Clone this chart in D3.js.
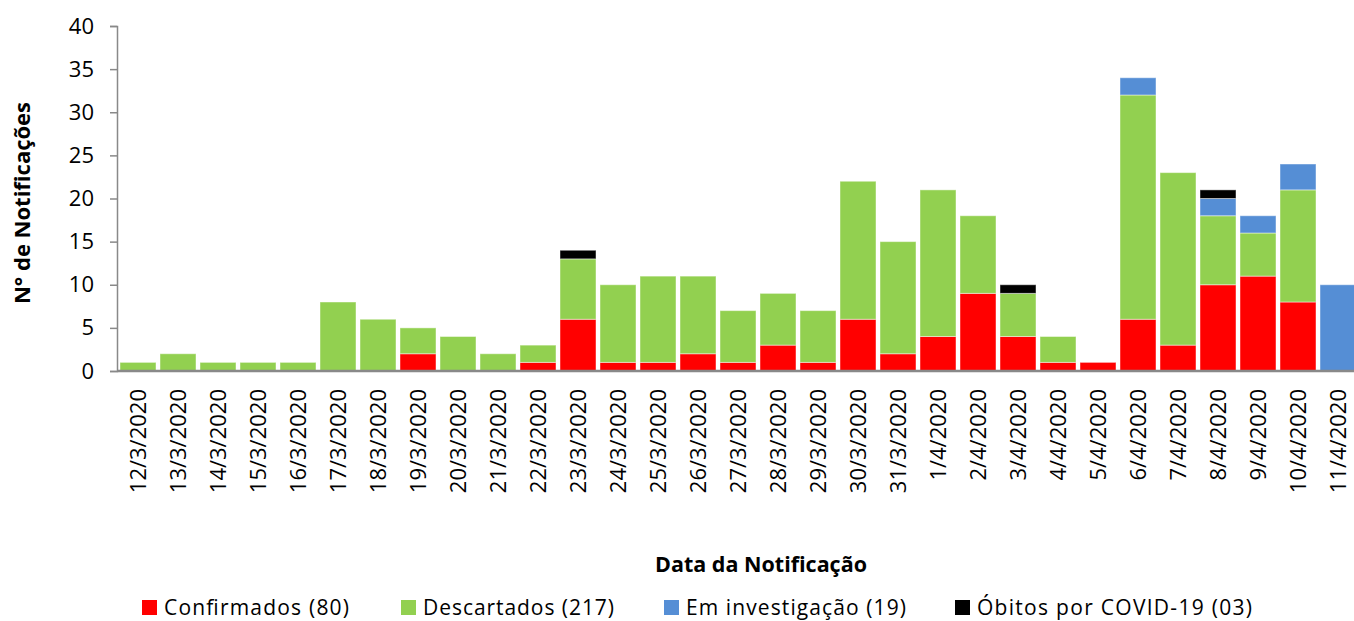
<!DOCTYPE html>
<html>
<head>
<meta charset="utf-8">
<script src="https://cdn.jsdelivr.net/npm/d3@7"></script>
<style>
  body { margin: 0; background: #fff; }
  svg { font-family: "Open Sans", sans-serif; }
</style>
</head>
<body>
<svg id="chart" width="1354" height="621"></svg>
<script>
const dates = ["12/3/2020","13/3/2020","14/3/2020","15/3/2020","16/3/2020","17/3/2020","18/3/2020","19/3/2020","20/3/2020","21/3/2020","22/3/2020","23/3/2020","24/3/2020","25/3/2020","26/3/2020","27/3/2020","28/3/2020","29/3/2020","30/3/2020","31/3/2020","1/4/2020","2/4/2020","3/4/2020","4/4/2020","5/4/2020","6/4/2020","7/4/2020","8/4/2020","9/4/2020","10/4/2020","11/4/2020"];
const confirmados = [0,0,0,0,0,0,0,2,0,0,1,6,1,1,2,1,3,1,6,2,4,9,4,1,1,6,3,10,11,8,0];
const descartados = [1,2,1,1,1,8,6,3,4,2,2,7,9,10,9,6,6,6,16,13,17,9,5,3,0,26,20,8,5,13,0];
const investigacao = [0,0,0,0,0,0,0,0,0,0,0,0,0,0,0,0,0,0,0,0,0,0,0,0,0,2,0,2,2,3,10];
const obitos = [0,0,0,0,0,0,0,0,0,0,0,1,0,0,0,0,0,0,0,0,0,0,1,0,0,0,0,1,0,0,0];
const yTicks = [0,5,10,15,20,25,30,35,40];

const series = [
  { key: "conf", name: "Confirmados (80)", color: "#FF0000", values: confirmados },
  { key: "desc", name: "Descartados (217)", color: "#92D050", values: descartados },
  { key: "inv", name: "Em investigação (19)", color: "#558ED5", values: investigacao },
  { key: "obi", name: "Óbitos por COVID-19 (03)", color: "#000000", values: obitos }
];

const rows = dates.map((d, i) => {
  const r = { date: d };
  series.forEach(s => r[s.key] = s.values[i]);
  return r;
});

const svg = d3.select("#chart");
const m = { left: 117, right: 1354, top: 26, bottom: 371 };

const x = d3.scaleBand().domain(dates).range([118, 1358]).paddingInner(0.1).paddingOuter(0.05);
const y = d3.scaleLinear().domain([0, 40]).range([m.bottom, m.top]);

const stack = d3.stack().keys(series.map(s => s.key))(rows);

svg.append("g")
  .selectAll("g")
  .data(stack)
  .join("g")
  .attr("fill", (d, i) => series[i].color)
  .selectAll("rect")
  .data(d => d.filter(p => p[1] > p[0]))
  .join("rect")
  .attr("x", d => x(d.data.date))
  .attr("width", x.bandwidth())
  .attr("y", d => y(d[1]))
  .attr("height", d => y(d[0]) - y(d[1]))
  .attr("stroke", "#ffffff")
  .attr("stroke-opacity", 0.45)
  .attr("stroke-width", 1);

// y axis
const yAxis = svg.append("g")
  .attr("transform", `translate(${m.left},0)`)
  .call(d3.axisLeft(y).tickValues(yTicks).tickSize(7).tickPadding(16));
yAxis.select(".domain").attr("stroke", "#898989").attr("stroke-width", 1.5);
yAxis.selectAll(".tick line").attr("stroke", "#898989").attr("stroke-width", 1.5);
yAxis.selectAll(".tick text").attr("font-size", 22).attr("fill", "#000")
  .attr("font-family", "Open Sans, sans-serif");

// x axis
const xAxis = svg.append("g")
  .attr("transform", `translate(0,${m.bottom})`)
  .call(d3.axisBottom(x).tickSize(0).tickPadding(0));
xAxis.select(".domain").attr("d", `M${m.left},0H${m.right}`).attr("stroke", "#898989").attr("stroke-width", 2.5);
xAxis.selectAll(".tick text")
  .attr("font-size", 22)
  .attr("fill", "#000")
  .attr("font-family", "Open Sans, sans-serif")
  .attr("text-anchor", "end")
  .attr("dy", "0.35em")
  .attr("transform", "translate(0,18) rotate(-90)");

// titles
svg.append("text")
  .attr("transform", "translate(30,203) rotate(-90)")
  .attr("text-anchor", "middle")
  .attr("font-size", 22)
  .attr("font-weight", "bold")
  .text("N° de Notificações");

svg.append("text")
  .attr("x", 761).attr("y", 572)
  .attr("text-anchor", "middle")
  .attr("font-size", 21.5)
  .attr("font-weight", "bold")
  .text("Data da Notificação");

// legend
const legendX = [142, 401, 664, 955];
const legendW = [185, 191, 220, 275];
const legend = svg.append("g")
  .selectAll("g")
  .data(series)
  .join("g")
  .attr("transform", (d, i) => `translate(${legendX[i]},600)`);
legend.append("rect")
  .attr("width", 15).attr("height", 15)
  .attr("fill", d => d.color);
legend.append("text")
  .attr("x", 22).attr("y", 15)
  .attr("font-size", 21)
  .attr("textLength", (d, i) => legendW[i])
  .attr("lengthAdjust", "spacing")
  .text(d => d.name);
</script>
</body>
</html>
